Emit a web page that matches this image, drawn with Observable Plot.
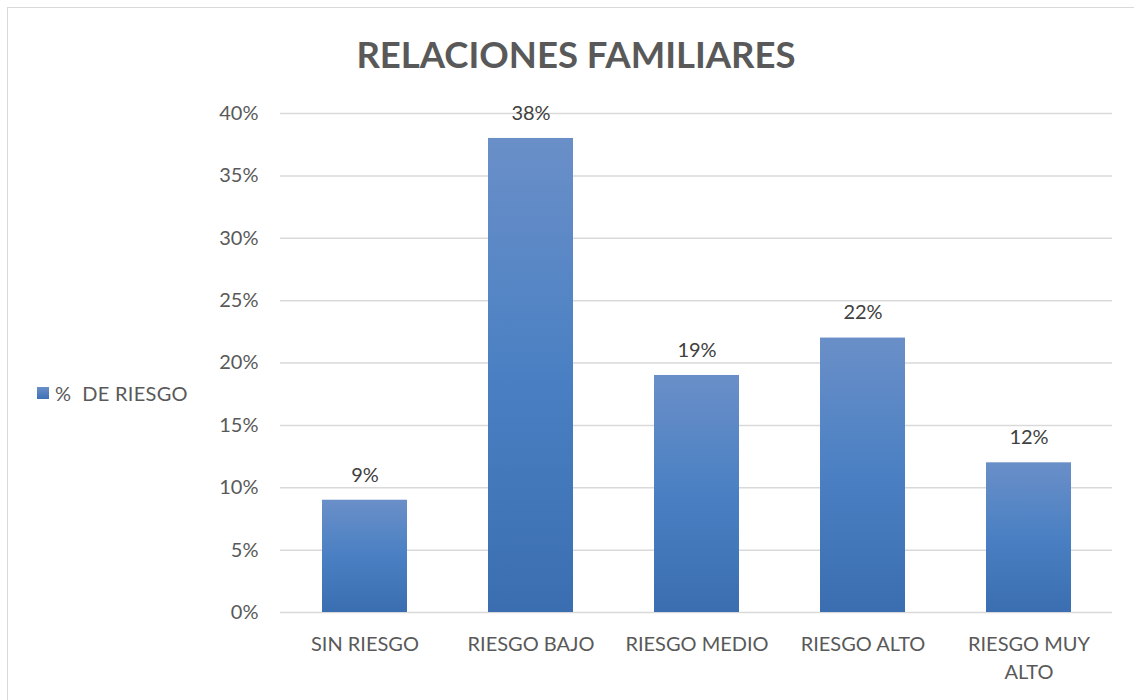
<!DOCTYPE html>
<html>
<head>
<meta charset="utf-8">
<script src="https://cdn.jsdelivr.net/npm/d3@7"></script>
<script src="https://cdn.jsdelivr.net/npm/@observablehq/plot@0.6"></script>
<style>
  html, body { margin: 0; padding: 0; background: #fff; }
  #wrap { position: relative; width: 1134px; height: 700px; overflow: hidden; font-family: Lato, "Open Sans", sans-serif; }
  #frame { position: absolute; left: 7px; top: 7px; width: 1140px; height: 710px; border: 1.5px solid #d9d9d9; box-sizing: border-box; }
  #title { position: absolute; left: 0; width: 1152px; top: 32px; text-align: center; font-size: 36.5px; font-weight: 700; color: #595959; }
  #legend { position: absolute; left: 37px; top: 381px; font-size: 20px; letter-spacing: 0.3px; color: #595959; display: flex; align-items: center; white-space: pre; }
  #legend .sw { width: 12px; height: 12px; background: linear-gradient(#6a8fc8, #3d72b6); margin-right: 6px; }
  #chart { position: absolute; left: 0; top: 0; }
</style>
</head>
<body>
<div id="wrap">
  <div id="frame"></div>
  <div id="chart"></div>
  <div id="title">RELACIONES FAMILIARES</div>
  <div id="legend"><span class="sw"></span>%  DE RIESGO</div>
</div>
<script>
const categories = ["SIN RIESGO", "RIESGO BAJO", "RIESGO MEDIO", "RIESGO ALTO", "RIESGO MUY ALTO"];
const values = [0.09, 0.38, 0.19, 0.22, 0.12];
const seriesName = "%  DE RIESGO";
const yTicks = [0, 0.05, 0.10, 0.15, 0.20, 0.25, 0.30, 0.35, 0.40];

const data = categories.map((c, i) => ({category: c, value: values[i]}));

const chart = Plot.plot({
  width: 1134,
  height: 700,
  marginLeft: 280,
  marginRight: 22,
  marginTop: 113,
  marginBottom: 88,
  style: {fontFamily: "Lato, 'Open Sans', sans-serif", fontSize: "20px", color: "#595959", background: "transparent"},
  x: {domain: categories, paddingInner: 0.49, paddingOuter: 0.245, label: null},
  y: {domain: [0, 0.40], label: null},
  marks: [
    Plot.ruleY(yTicks, {stroke: "#d9d9d9", strokeWidth: 1.5}),
    Plot.barY(data, {x: "category", y: "value", fill: "url(#barGrad)", style: "filter: drop-shadow(2px 2px 2px rgba(0,0,0,0.25))"}),
    Plot.text(data, {x: "category", y: "value", text: d => Math.round(d.value * 100) + "%", dy: -25, fill: "#404040", fontSize: 20}),
    Plot.axisY({ticks: yTicks, tickFormat: d => Math.round(d * 100) + "%", tickSize: 0, tickPadding: 22, fill: "#595959", fontSize: 20}),
    Plot.axisX({tickSize: 0, tickPadding: 19, fill: "#595959", fontSize: 20, lineHeight: 1.4,
      tickFormat: d => d === "RIESGO MUY ALTO" ? "RIESGO MUY\nALTO" : d})
  ]
});

const ns = "http://www.w3.org/2000/svg";
const defs = document.createElementNS(ns, "defs");
defs.innerHTML = `<linearGradient id="barGrad" x1="0" y1="0" x2="0" y2="1">
  <stop offset="0" stop-color="#6a8fc8"/>
  <stop offset="0.5" stop-color="#4a80c3"/>
  <stop offset="1" stop-color="#3a6eb0"/>
</linearGradient>`;
chart.insertBefore(defs, chart.firstChild);
document.getElementById("chart").appendChild(chart);
</script>
</body>
</html>
